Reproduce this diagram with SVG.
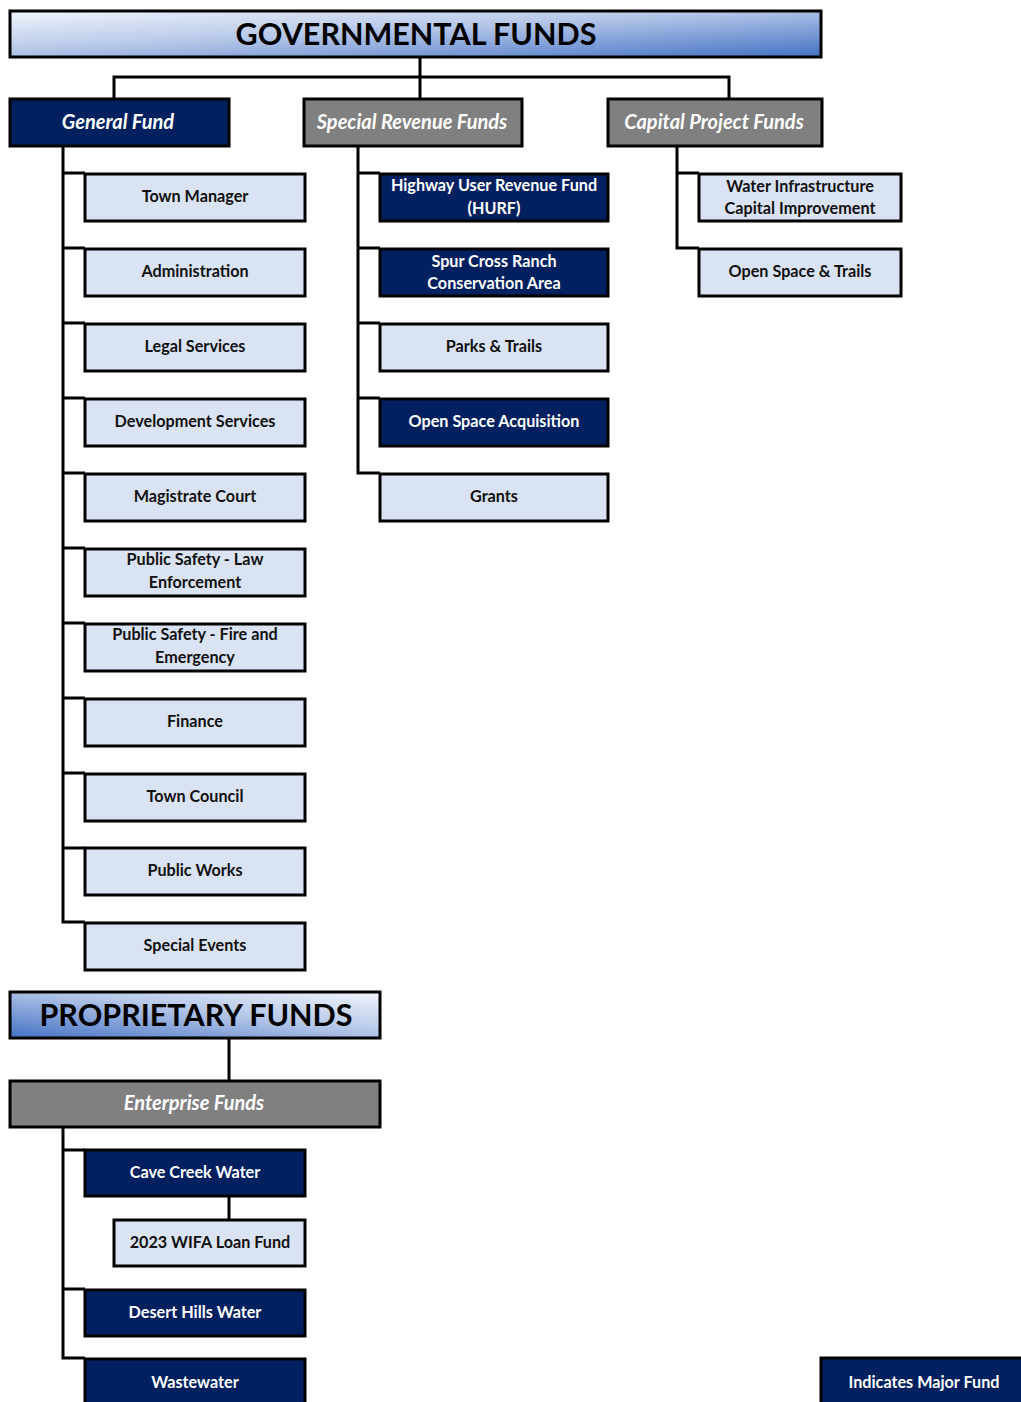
<svg xmlns="http://www.w3.org/2000/svg" width="1021" height="1402" viewBox="0 0 1021 1402">
<defs>
<linearGradient id="gGov" x1="0" y1="0" x2="1" y2="1">
<stop offset="0" stop-color="#f2f5fc"/>
<stop offset="0.45" stop-color="#b4c6e8"/>
<stop offset="1" stop-color="#4472c4"/>
</linearGradient>
<linearGradient id="gProp" x1="1" y1="0" x2="0" y2="1">
<stop offset="0" stop-color="#f2f5fc"/>
<stop offset="0.45" stop-color="#b4c6e8"/>
<stop offset="1" stop-color="#4472c4"/>
</linearGradient>
</defs>
<style>
rect{stroke:#000;stroke-width:3}
.navy{fill:#002060}
.gray{fill:#808080}
.light{fill:#dae3f3}
text{font-family:Lato,"Liberation Sans",sans-serif;font-weight:bold;text-anchor:middle}
.t{font-size:16.2px;fill:#111}
.tw{font-size:16.2px;fill:#fff}
.h{font-size:20px;font-style:italic;fill:#fff}
.big{font-size:30.5px;fill:#000}
#connectors path{fill:none;stroke:#000;stroke-width:3}
</style>
<rect width="1021" height="1402" fill="#fff" style="stroke:none"/>
<g id="connectors">
<path d="M420 57V98M114 98V77H729V98"/>
<path d="M63 146V922H85M63 173H85M63 248H85M63 323H85M63 398H85M63 473H85M63 548H85M63 623H85M63 698H85M63 773H85M63 848H85"/>
<path d="M358 146V473H380M358 173H380M358 248H380M358 323H380M358 398H380"/>
<path d="M677 146V248H699M677 173H699"/>
<path d="M229 1039V1080"/>
<path d="M63 1128V1358H85M63 1150H85M63 1289H85"/>
<path d="M229 1196V1219"/>
</g>
<g id="governmental">
<rect x="10" y="11" width="811" height="46" fill="url(#gGov)"/>
<text class="big" x="416" y="45">GOVERNMENTAL FUNDS</text>
</g>
<g id="general-fund"><rect class="navy" x="10" y="99" width="219" height="47"/><text class="h" x="118" y="129">General Fund</text></g>
<g id="special-revenue"><rect class="gray" x="304" y="99" width="218" height="47"/><text class="h" x="412" y="129">Special Revenue Funds</text></g>
<g id="capital-project"><rect class="gray" x="608" y="99" width="214" height="47"/><text class="h" x="714" y="129">Capital Project Funds</text></g>

<g id="town-manager"><rect class="light" x="85" y="174" width="220" height="47"/><text class="t" x="195" y="202">Town Manager</text></g>
<g id="administration"><rect class="light" x="85" y="249" width="220" height="47"/><text class="t" x="195" y="277">Administration</text></g>
<g id="legal-services"><rect class="light" x="85" y="324" width="220" height="47"/><text class="t" x="195" y="352">Legal Services</text></g>
<g id="development-services"><rect class="light" x="85" y="399" width="220" height="47"/><text class="t" x="195" y="427">Development Services</text></g>
<g id="magistrate-court"><rect class="light" x="85" y="474" width="220" height="47"/><text class="t" x="195" y="502">Magistrate Court</text></g>
<g id="ps-law"><rect class="light" x="85" y="549" width="220" height="47"/><text class="t" x="195" y="565">Public Safety - Law</text><text class="t" x="195" y="588">Enforcement</text></g>
<g id="ps-fire"><rect class="light" x="85" y="624" width="220" height="47"/><text class="t" x="195" y="640">Public Safety - Fire and</text><text class="t" x="195" y="663">Emergency</text></g>
<g id="finance"><rect class="light" x="85" y="699" width="220" height="47"/><text class="t" x="195" y="727">Finance</text></g>
<g id="town-council"><rect class="light" x="85" y="774" width="220" height="47"/><text class="t" x="195" y="802">Town Council</text></g>
<g id="public-works"><rect class="light" x="85" y="848" width="220" height="47"/><text class="t" x="195" y="876">Public Works</text></g>
<g id="special-events"><rect class="light" x="85" y="923" width="220" height="47"/><text class="t" x="195" y="951">Special Events</text></g>

<g id="hurf"><rect class="navy" x="380" y="174" width="228" height="47"/><text class="tw" x="494" y="191">Highway User Revenue Fund</text><text class="tw" x="494" y="214">(HURF)</text></g>
<g id="spur-cross"><rect class="navy" x="380" y="249" width="228" height="47"/><text class="tw" x="494" y="267">Spur Cross Ranch</text><text class="tw" x="494" y="289">Conservation Area</text></g>
<g id="parks-trails"><rect class="light" x="380" y="324" width="228" height="47"/><text class="t" x="494" y="352">Parks &amp; Trails</text></g>
<g id="open-space-acq"><rect class="navy" x="380" y="399" width="228" height="47"/><text class="tw" x="494" y="427">Open Space Acquisition</text></g>
<g id="grants"><rect class="light" x="380" y="474" width="228" height="47"/><text class="t" x="494" y="502">Grants</text></g>

<g id="water-infra"><rect class="light" x="699" y="174" width="202" height="47"/><text class="t" x="800" y="192">Water Infrastructure</text><text class="t" x="800" y="214">Capital Improvement</text></g>
<g id="open-space-trails"><rect class="light" x="699" y="249" width="202" height="47"/><text class="t" x="800" y="277">Open Space &amp; Trails</text></g>

<g id="proprietary">
<rect x="10" y="992" width="370" height="46" fill="url(#gProp)"/>
<text class="big" x="196" y="1026">PROPRIETARY FUNDS</text>
</g>
<g id="enterprise"><rect class="gray" x="10" y="1081" width="370" height="46"/><text class="h" x="194" y="1110">Enterprise Funds</text></g>
<g id="cave-creek"><rect class="navy" x="85" y="1150" width="220" height="46"/><text class="tw" x="195" y="1178">Cave Creek Water</text></g>
<g id="wifa"><rect class="light" x="114" y="1220" width="191" height="46"/><text class="t" x="210" y="1248">2023 WIFA Loan Fund</text></g>
<g id="desert-hills"><rect class="navy" x="85" y="1290" width="220" height="46"/><text class="tw" x="195" y="1318">Desert Hills Water</text></g>
<g id="wastewater"><rect class="navy" x="85" y="1359" width="220" height="46"/><text class="tw" x="195" y="1388">Wastewater</text></g>
<g id="legend"><rect class="navy" x="821" y="1358" width="203" height="46"/><text class="tw" x="924" y="1388">Indicates Major Fund</text></g>
</svg>
